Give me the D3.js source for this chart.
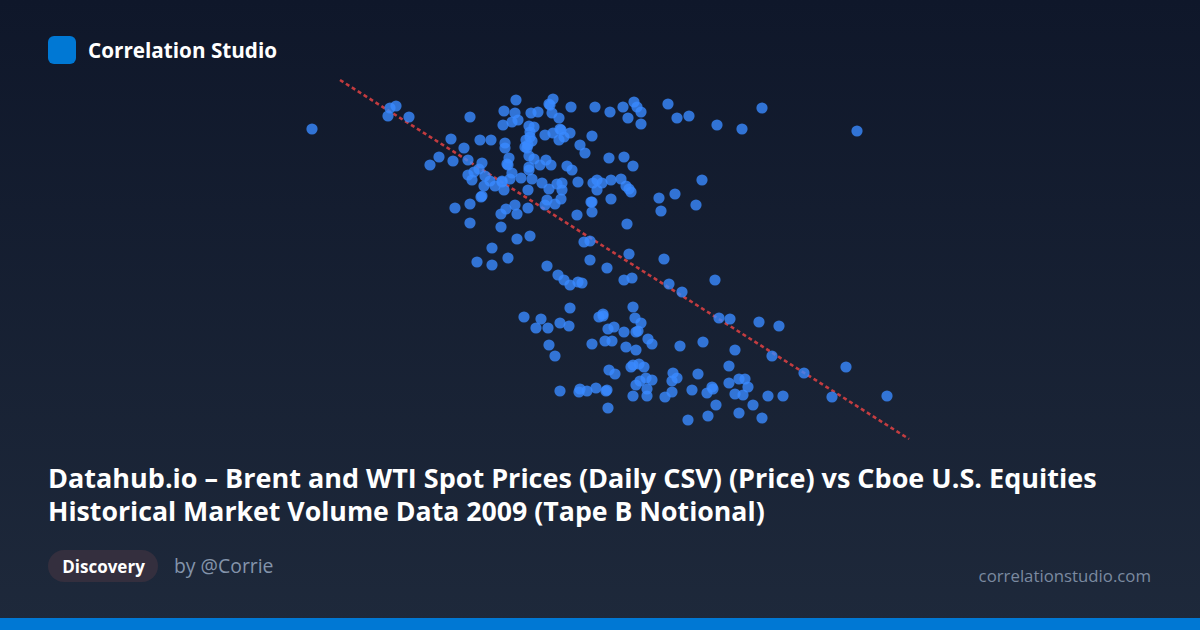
<!DOCTYPE html>
<html><head><meta charset="utf-8">
<script src="https://d3js.org/d3.v7.min.js"></script>
<style>html,body{margin:0;padding:0;background:#0f172a}svg{display:block}text{font-family:"Open Sans",sans-serif}</style>
</head><body><svg id="c" width="1200" height="630"></svg>
<script>
const brandName = "Correlation Studio";
const titleLines = ["Datahub.io – Brent and WTI Spot Prices (Daily CSV) (Price) vs Cboe U.S. Equities","Historical Market Volume Data 2009 (Tape B Notional)"];
const tagLabel = "Discovery";
const authorLabel = "by @Corrie";
const siteLabel = "correlationstudio.com";
// [Price, Tape B Notional]
const points = [
[31.2,31.1],[39.0,33.2],[39.6,33.4],[38.8,32.4],[40.9,32.3],[47.0,32.3],[51.6,34.0],[50.4,32.9],[51.5,32.7],[50.3,31.5],
[51.2,31.8],[51.8,32.0],[53.1,32.7],[53.8,32.8],[55.3,34.1],[54.9,33.6],[55.0,33.5],[55.2,32.7],[55.9,32.2],[57.1,33.3],
[59.5,33.3],[61.0,32.8],[52.9,31.4],[53.4,31.3],[53.0,30.8],[54.5,30.5],[55.3,30.7],[56.0,31.1],[56.1,31.0],[57.0,30.7],
[55.9,30.0],[56.4,30.3],[59.2,30.4],[53.0,30.3],[53.2,29.9],[52.6,30.0],[52.8,29.5],[52.5,29.3],[52.7,29.2],[45.1,30.1],
[48.0,30.0],[49.1,30.0],[50.5,29.7],[50.5,29.2],[46.4,29.2],[43.9,28.3],[43.0,27.5],[45.3,27.9],[46.8,28.0],[48.2,27.7],
[50.9,28.2],[50.7,27.6],[50.8,27.5],[51.2,26.7],[52.9,28.4],[53.4,28.1],[54.0,27.5],[54.6,28.0],[55.1,27.5],[52.9,27.3],
[52.9,27.0],[56.7,27.4],[57.2,27.0],[58.0,29.5],[58.5,28.7],[60.9,28.2],[46.8,26.5],[47.4,26.8],[47.9,27.1],[47.2,26.0],
[48.5,26.4],[49.0,25.9],[48.4,25.4],[49.5,25.4],[50.2,25.9],[50.2,25.8],[50.4,25.0],[51.0,26.1],[52.1,26.2],[53.2,26.1],
[52.8,25.0],[54.2,25.7],[54.9,25.1],[55.7,25.6],[56.2,25.7],[56.2,25.0],[56.1,24.1],[54.7,24.0],[54.5,23.5],[55.5,23.6],
[57.8,25.8],[59.3,25.7],[59.7,26.0],[60.2,25.7],[59.7,25.0],[61.1,26.0],[61.1,24.1],[59.1,23.8],[59.2,23.8],[59.2,22.8],
[57.7,22.5],[48.2,24.4],[48.1,24.3],[45.5,23.2],[47.0,23.6],[47.0,21.7],[51.5,23.5],[50.6,23.1],[50.1,22.6],[51.7,22.6],
[52.8,23.2],[50.1,21.3],[51.7,20.1],[53.0,20.4],[49.2,19.2],[50.8,18.2],[47.7,17.8],[58.4,19.8],[59.0,19.9],[59.0,18.0],
[62.3,33.3],[63.4,33.8],[63.7,33.3],[64.1,32.8],[62.8,32.2],[64.1,31.6],[66.8,33.6],[67.7,32.2],[68.9,32.4],[71.7,31.5],
[74.2,31.1],[76.2,33.2],[85.7,30.9],[62.4,28.3],[63.3,27.4],[62.1,26.1],[62.6,25.4],[62.9,25.1],[63.1,24.8],[65.9,24.2],
[67.5,24.6],[66.1,22.9],[69.6,23.5],[70.2,26.0],[62.7,21.6],[62.9,18.6],[66.4,18.1],[49.2,17.5],[54.7,17.4],[55.8,16.5],
[56.4,16.0],[57.0,15.5],[57.8,15.8],[58.2,15.7],[60.7,17.2],[62.4,16.0],[63.2,16.2],[66.9,15.6],[68.2,14.8],[57.0,13.2],
[52.4,12.3],[54.1,12.1],[53.6,11.2],[54.8,11.2],[56.0,11.7],[56.9,11.4],[54.9,9.5],[55.5,8.4],[59.2,9.6],[59.9,12.3],
[60.3,12.4],[60.3,12.6],[60.8,11.1],[61.4,11.3],[62.4,10.8],[60.5,9.9],[61.2,9.9],[63.3,13.3],[63.5,12.2],[64.1,11.7],
[63.6,10.8],[63.8,10.9],[64.8,10.1],[65.2,9.6],[62.6,9.3],[63.6,9.0],[68.0,9.4],[70.3,9.8],[60.9,7.0],[61.5,6.6],
[56.0,4.9],[58.0,5.1],[57.9,4.8],[58.7,4.9],[59.6,5.2],[60.7,5.0],[60.6,4.9],[60.8,3.2],[63.1,7.3],[63.3,7.5],
[63.9,7.6],[64.4,7.3],[64.0,5.9],[64.6,6.2],[65.2,6.0],[63.6,5.5],[64.7,5.1],[63.3,4.4],[64.7,4.4],[66.5,4.3],
[67.2,4.8],[67.2,5.9],[67.3,6.7],[67.7,6.2],[69.8,6.6],[69.2,5.0],[68.8,2.0],[71.5,16.0],[71.9,12.2],[73.0,12.1],
[75.9,11.8],[77.9,11.4],[73.5,9.0],[77.2,8.4],[72.9,7.4],[80.4,6.7],[84.6,7.3],[72.9,5.7],[73.9,6.1],[74.5,6.1],
[74.8,5.3],[71.2,5.3],[71.3,5.1],[70.7,4.7],[73.5,4.6],[74.3,4.5],[76.8,4.4],[78.3,4.4],[83.2,4.3],[88.7,4.4],
[71.6,3.5],[75.3,3.5],[70.8,2.4],[73.9,2.7],[76.2,2.2]
];
const trendPrice = [34.0, 90.9];
const trendNotional = [36.0, 0.1];

const svg = d3.select("#c");
const defs = svg.append("defs");
const g = defs.append("linearGradient").attr("id","bg").attr("x1",0).attr("y1",0).attr("x2",0).attr("y2",1);
g.append("stop").attr("offset","0%").attr("stop-color","#0f172a");
g.append("stop").attr("offset","100%").attr("stop-color","#1e293b");
svg.append("rect").attr("width",1200).attr("height",630).attr("fill","url(#bg)");
svg.append("rect").attr("x",0).attr("y",618).attr("width",1200).attr("height",12).attr("fill","#0078d4");

svg.append("rect").attr("x",48).attr("y",36).attr("width",28).attr("height",28).attr("rx",6).attr("fill","#0078d4");
svg.append("text").attr("x",88).attr("y",57.5).attr("font-size",20.7).attr("font-weight",700).attr("fill","#fff").text(brandName);

const x = d3.scaleLinear().domain([30,90]).range([300,900]);
const y = d3.scaleLinear().domain([0,36]).range([440,80]);

const line = d3.line().x(d=>x(d[0])).y(d=>y(d[1]));
svg.append("path").attr("d",line(trendPrice.map((p,i)=>[p,trendNotional[i]])))
  .attr("fill","none").attr("stroke","#ef4444").attr("stroke-opacity",0.8).attr("stroke-width",2.6).attr("stroke-dasharray","4,3");

svg.append("g").selectAll("circle").data(points).join("circle")
  .attr("cx",d=>x(d[0])).attr("cy",d=>y(d[1])).attr("r",5.6)
  .attr("fill","#3a8aff").attr("fill-opacity",0.8);

const titleSizes = [27, 26.7];
const t = svg.append("text").attr("font-weight",700).attr("fill","#fff");
t.selectAll("tspan").data(titleLines).join("tspan").attr("x",48).attr("y",(d,i)=>488+i*33).attr("font-size",(d,i)=>titleSizes[i]).text(d=>d);

svg.append("rect").attr("x",48).attr("y",550).attr("width",110).attr("height",32).attr("rx",16).attr("fill","#342f3e");
svg.append("text").attr("x",103.5).attr("y",572.5).attr("text-anchor","middle").attr("font-size",17).attr("font-weight",700).attr("fill","#fff").text(tagLabel);
svg.append("text").attr("x",174).attr("y",573).attr("font-size",19.4).attr("fill","#8494ab").text(authorLabel);
svg.append("text").attr("x",1151).attr("y",581.5).attr("text-anchor","end").attr("font-size",16.8).attr("fill","#7b8aa0").text(siteLabel);
</script></body></html>
